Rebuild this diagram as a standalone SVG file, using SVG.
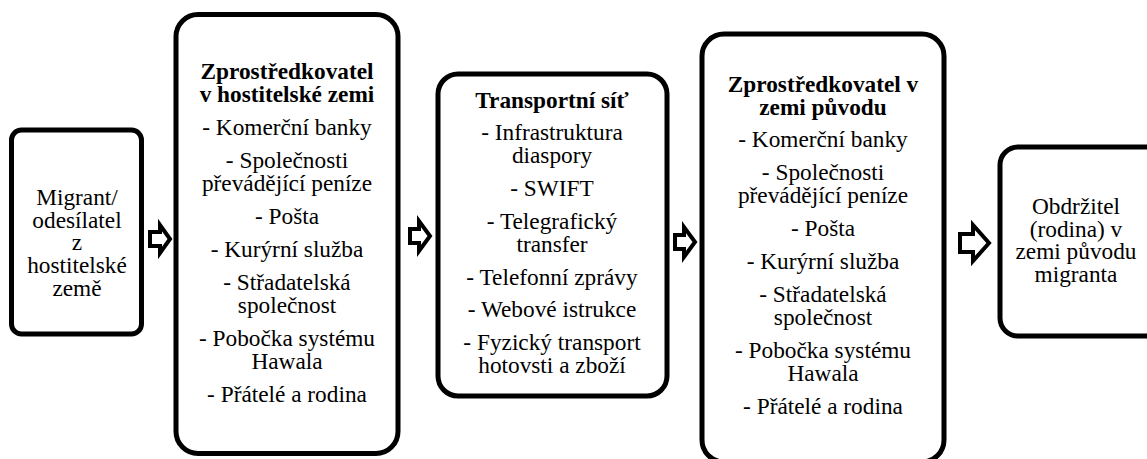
<svg xmlns="http://www.w3.org/2000/svg" width="1147" height="459" viewBox="0 0 1147 459">
<style>
.box{fill:#fff;stroke:#000;stroke-width:5}
.t{font-family:"Liberation Serif","Times New Roman",serif;font-size:23.3px;fill:#000;text-anchor:middle}
.b{font-weight:bold}
.arr{fill:#fff;stroke:#000;stroke-width:4;stroke-linejoin:miter}
</style>
<rect width="1147" height="459" fill="#fff"/>
<g id="connectors">
<path class="arr" d="M150,232 H160 V225 L170,239 L160,253 V246 H150 Z"/>
<path class="arr" d="M410,229 H419 V221 L430,236 L419,251 V243 H410 Z"/>
<path class="arr" d="M675,235 H684 V227 L695,242 L684,257 V249 H675 Z"/>
<path class="arr" d="M960,234 H973 V225 L989,243 L973,261 V252 H960 Z"/>
</g>
<g id="migrant">
<rect class="box" x="11.5" y="130" width="130" height="204" rx="10"/>
<text class="t"><tspan x="77" y="205">Migrant/</tspan><tspan x="77" y="228">odesílatel</tspan><tspan x="77" y="250">z</tspan><tspan x="77" y="273">hostitelské</tspan><tspan x="77" y="296">země</tspan></text>
</g>
<g id="host">
<rect class="box" x="176" y="14.5" width="222" height="439" rx="22"/>
<text class="t"><tspan class="b" x="287" y="79">Zprostředkovatel</tspan><tspan class="b" x="287" y="102">v hostitelské zemi</tspan><tspan x="287" y="135">- Komerční banky</tspan><tspan x="287" y="168">- Společnosti</tspan><tspan x="287" y="191">převádějící peníze</tspan><tspan x="287" y="224">- Pošta</tspan><tspan x="287" y="257">- Kurýrní služba</tspan><tspan x="287" y="290">- Střadatelská</tspan><tspan x="287" y="313">společnost</tspan><tspan x="287" y="346">- Pobočka systému</tspan><tspan x="287" y="369">Hawala</tspan><tspan x="287" y="402">- Přátelé a rodina</tspan></text>
</g>
<g id="transport">
<rect class="box" x="438" y="74" width="229" height="322" rx="20"/>
<text class="t"><tspan class="b" x="552" y="108">Transportní síť</tspan><tspan x="552" y="140">- Infrastruktura</tspan><tspan x="552" y="163">diaspory</tspan><tspan x="552" y="196">- SWIFT</tspan><tspan x="552" y="229">- Telegrafický</tspan><tspan x="552" y="252">transfer</tspan><tspan x="552" y="285">- Telefonní zprávy</tspan><tspan x="552" y="317">- Webové istrukce</tspan><tspan x="552" y="350">- Fyzický transport</tspan><tspan x="552" y="373">hotovsti a zboží</tspan></text>
</g>
<g id="origin">
<rect class="box" x="702" y="34" width="242" height="428" rx="22"/>
<text class="t"><tspan class="b" x="823" y="92">Zprostředkovatel v</tspan><tspan class="b" x="823" y="115">zemi původu</tspan><tspan x="823" y="147">- Komerční banky</tspan><tspan x="823" y="180">- Společnosti</tspan><tspan x="823" y="203">převádějící peníze</tspan><tspan x="823" y="236">- Pošta</tspan><tspan x="823" y="269">- Kurýrní služba</tspan><tspan x="823" y="302">- Střadatelská</tspan><tspan x="823" y="325">společnost</tspan><tspan x="823" y="358">- Pobočka systému</tspan><tspan x="823" y="381">Hawala</tspan><tspan x="823" y="414">- Přátelé a rodina</tspan></text>
</g>
<g id="receiver">
<rect class="box" x="1000" y="147" width="170" height="189" rx="18"/>
<text class="t"><tspan x="1076" y="214">Obdržitel</tspan><tspan x="1076" y="237">(rodina) v</tspan><tspan x="1076" y="259">zemi původu</tspan><tspan x="1076" y="282">migranta</tspan></text>
</g>
</svg>
